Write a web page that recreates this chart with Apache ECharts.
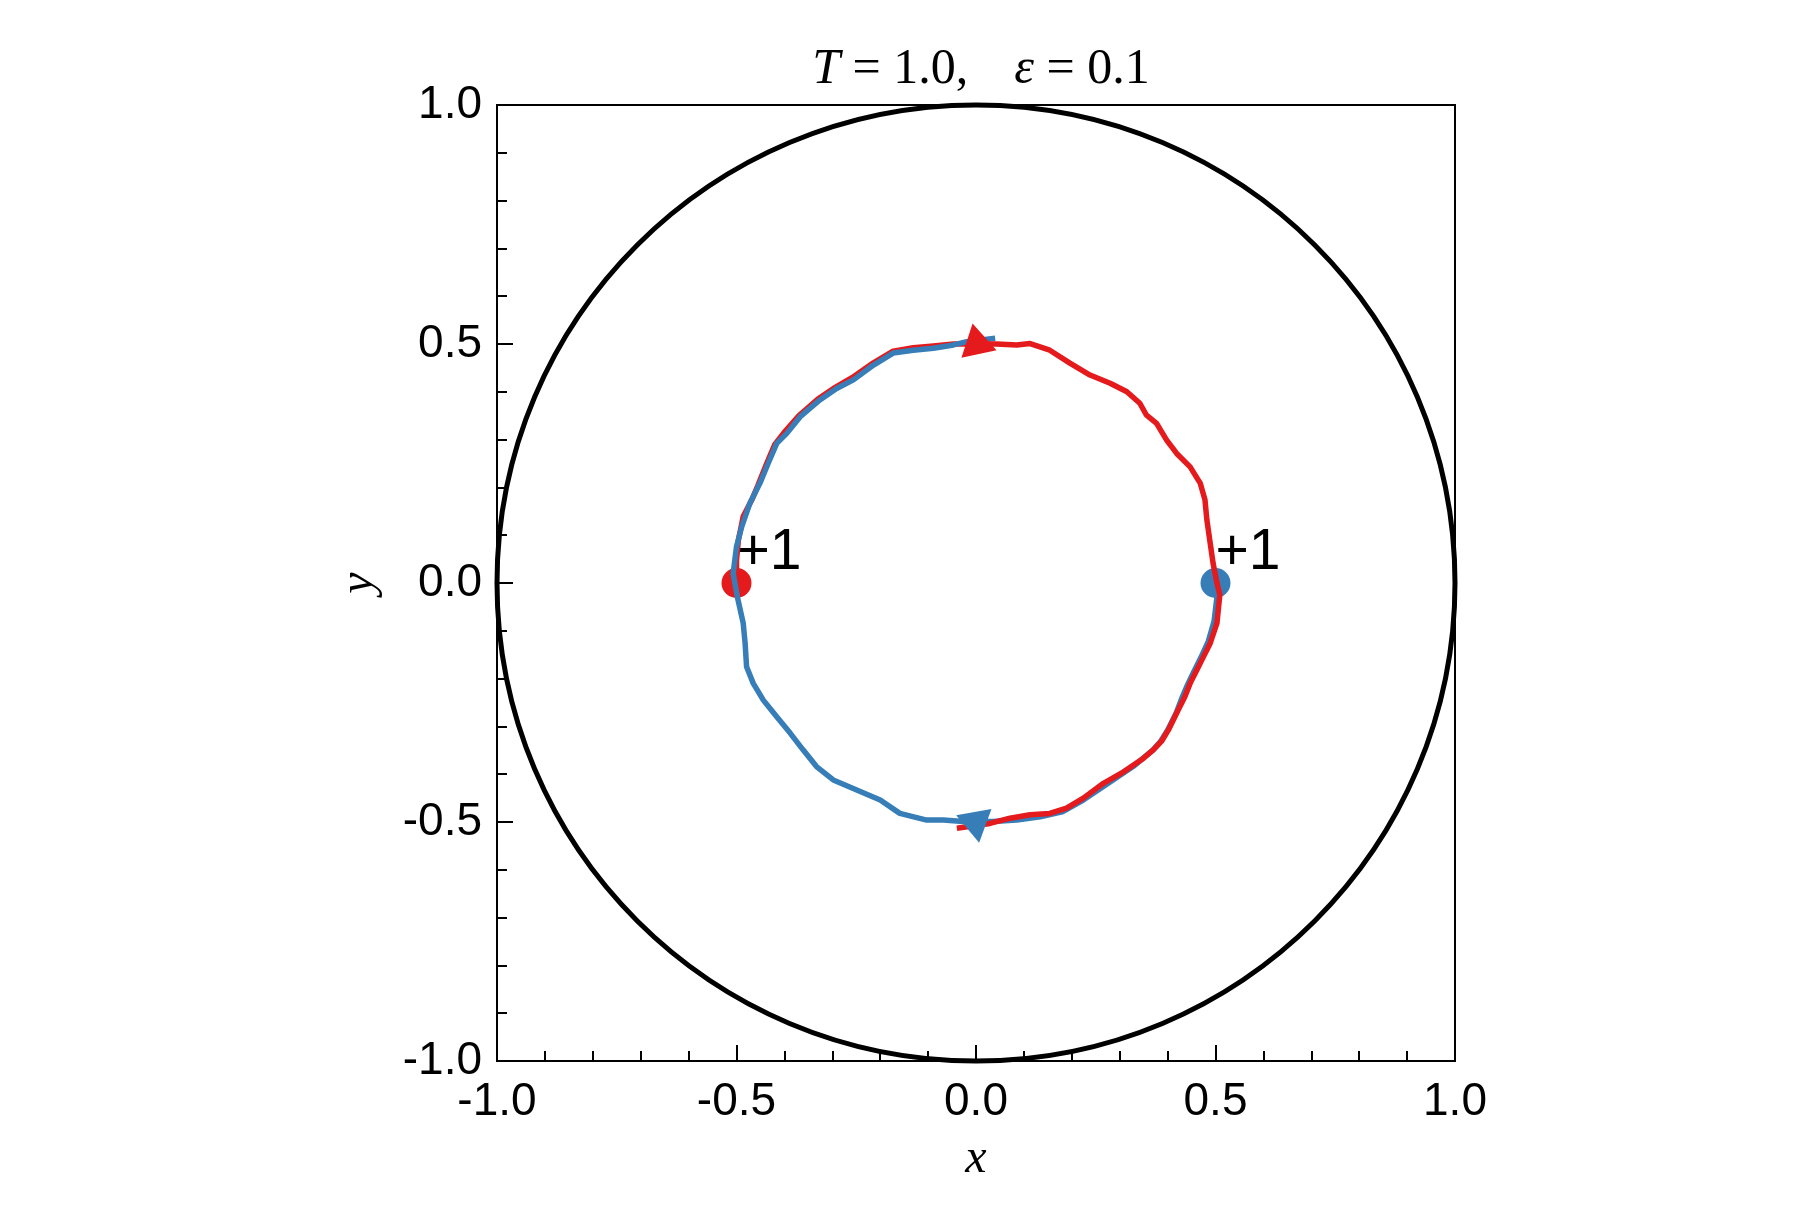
<!DOCTYPE html>
<html><head><meta charset="utf-8">
<script src="https://cdn.jsdelivr.net/npm/echarts@6/dist/echarts.min.js"></script>
<style>html,body{margin:0;padding:0;background:#fff}#c{width:1800px;height:1224px}</style>
</head><body><div id="c"></div>
<script>
// ---- data ----
const tickValues = [-1, -0.5, 0, 0.5, 1];
const tickLabels = ['-1.0', '-0.5', '0.0', '0.5', '1.0'];
const domainCircle = [[0, 0, 1]]; // centre x, centre y, radius
// red vortex trajectory, first part (start -> top)
const redPath1 = [
  [-0.500, 0.000], [-0.500, 0.048], [-0.496, 0.090], [-0.486, 0.139], [-0.468, 0.174],
  [-0.455, 0.205], [-0.437, 0.250], [-0.420, 0.290], [-0.398, 0.318], [-0.370, 0.350],
  [-0.330, 0.385], [-0.293, 0.410], [-0.258, 0.430], [-0.215, 0.460], [-0.173, 0.485],
  [-0.131, 0.492], [-0.089, 0.496], [-0.047, 0.500], [0.000, 0.500]
];
// red vortex trajectory, second part (top -> bottom)
const redPath2 = [
  [0.000, 0.500], [0.043, 0.500], [0.085, 0.498], [0.113, 0.501], [0.154, 0.487],
  [0.196, 0.460], [0.238, 0.435], [0.280, 0.418], [0.315, 0.400], [0.342, 0.376],
  [0.356, 0.351], [0.377, 0.334], [0.398, 0.299], [0.419, 0.271], [0.447, 0.243],
  [0.468, 0.209], [0.478, 0.174], [0.482, 0.132], [0.489, 0.083], [0.495, 0.041],
  [0.503, 0.000], [0.509, -0.025], [0.503, -0.084], [0.489, -0.126], [0.475, -0.154],
  [0.461, -0.182], [0.447, -0.210], [0.436, -0.238], [0.420, -0.270], [0.403, -0.305],
  [0.388, -0.330], [0.370, -0.349], [0.349, -0.367], [0.308, -0.395], [0.266, -0.419],
  [0.224, -0.450], [0.189, -0.471], [0.154, -0.482], [0.113, -0.485], [0.071, -0.492],
  [0.029, -0.503], [-0.040, -0.513]
];
// blue vortex trajectory
const bluePath = [
  [0.500, 0.000], [0.503, -0.030], [0.497, -0.080], [0.485, -0.122], [0.470, -0.155],
  [0.455, -0.185], [0.442, -0.212], [0.430, -0.240], [0.418, -0.272], [0.400, -0.308],
  [0.385, -0.332], [0.370, -0.349], [0.328, -0.384], [0.280, -0.416], [0.224, -0.454],
  [0.182, -0.478], [0.134, -0.489], [0.085, -0.496], [0.036, -0.499], [-0.027, -0.499],
  [-0.068, -0.496], [-0.103, -0.496], [-0.159, -0.482], [-0.200, -0.454], [-0.249, -0.433],
  [-0.298, -0.412], [-0.333, -0.384], [-0.361, -0.349], [-0.388, -0.314], [-0.416, -0.280],
  [-0.444, -0.245], [-0.465, -0.210], [-0.479, -0.175], [-0.482, -0.126], [-0.486, -0.084],
  [-0.498, -0.030], [-0.507, 0.020], [-0.500, 0.076], [-0.489, 0.118], [-0.472, 0.167],
  [-0.451, 0.209], [-0.434, 0.250], [-0.416, 0.292], [-0.395, 0.313], [-0.367, 0.348],
  [-0.326, 0.383], [-0.291, 0.407], [-0.256, 0.425], [-0.214, 0.456], [-0.173, 0.481],
  [-0.131, 0.487], [-0.089, 0.491], [-0.047, 0.498], [-0.019, 0.505], [0.040, 0.512]
];
const redStart = [[-0.5, 0.0]];
const blueStart = [[0.5, 0.0]];
const redArrow = [[0.012, 0.497]];
const blueArrow = [[-0.011, -0.497]];
const chargeLabel = '+1';
const titleParts = ['T', ' = 1.0,', 'ε', ' = 0.1'];

// ---- chart ----
const RED = '#e41a1c', BLUE = '#377eb8';
const chart = echarts.init(document.getElementById('c'), null, {renderer: 'canvas'});
const fmt = v => { const i = tickValues.findIndex(t => Math.abs(t - v) < 1e-9); return i >= 0 ? tickLabels[i] : ''; };
const axisCommon = {
  type: 'value', min: -1, max: 1, interval: 0.5,
  axisLine: {show: true, onZero: false, lineStyle: {color: '#000', width: 2}},
  axisTick: {show: true, inside: true, length: 16, lineStyle: {color: '#000', width: 2}},
  minorTick: {show: true, splitNumber: 5, length: 10, lineStyle: {color: '#000', width: 2}},
  splitLine: {show: false}, minorSplitLine: {show: false},
  nameTextStyle: {fontFamily: 'Liberation Serif', fontStyle: 'italic', fontSize: 48, color: '#000'},
  nameLocation: 'middle'
};
const option = {
  backgroundColor: '#fff',
  animation: false,
  title: {
    text: '{i|' + titleParts[0] + '}{n|' + titleParts[1] + '}{s|}{i|' + titleParts[2] + '}{n|' + titleParts[3] + '}',
    left: 976, top: 40, textAlign: 'center',
    textStyle: {
      fontWeight: 'normal',
      rich: {
        i: {fontFamily: 'Liberation Serif', fontStyle: 'italic', fontWeight: 'normal', fontSize: 50, color: '#000'},
        n: {fontFamily: 'Liberation Serif', fontWeight: 'normal', fontSize: 50, color: '#000'},
        s: {width: 46}
      }
    }
  },
  grid: {left: 497, top: 105, width: 958, height: 956, show: true, borderColor: '#000', borderWidth: 2, containLabel: false},
  xAxis: Object.assign({}, axisCommon, {
    name: 'x', nameGap: 74,
    axisLabel: {formatter: fmt, fontFamily: 'Liberation Sans', fontSize: 46, color: '#000', margin: 18}
  }),
  yAxis: Object.assign({}, axisCommon, {
    name: 'y', nameGap: 114, nameRotate: 90,
    axisLabel: {formatter: fmt, fontFamily: 'Liberation Sans', fontSize: 46, color: '#000', margin: 15}
  }),
  series: [
    {
      type: 'custom', data: domainCircle, z: 2, silent: true,
      renderItem: (params, api) => {
        const c = api.coord([api.value(0), api.value(1)]);
        const s = api.size([api.value(2), api.value(2)]);
        return {type: 'ellipse', shape: {cx: c[0], cy: c[1], rx: s[0], ry: s[1]},
          style: {fill: null, stroke: '#000', lineWidth: 5}};
      }
    },
    {type: 'scatter', data: redStart, symbol: 'circle', symbolSize: 30, z: 3,
      itemStyle: {color: RED, opacity: 1},
      label: {show: true, formatter: chargeLabel, position: [15, -43], align: 'left', verticalAlign: 'top',
        fontFamily: 'Liberation Sans', fontSize: 57, color: '#000'}},
    {type: 'scatter', data: blueStart, symbol: 'circle', symbolSize: 30, z: 3,
      itemStyle: {color: BLUE, opacity: 1},
      label: {show: true, formatter: chargeLabel, position: [15, -43], align: 'left', verticalAlign: 'top',
        fontFamily: 'Liberation Sans', fontSize: 57, color: '#000'}},
    {type: 'line', data: redPath1, showSymbol: false, z: 4, smooth: false,
      lineStyle: {color: RED, width: 5.5}},
    {type: 'line', data: bluePath, showSymbol: false, z: 5, smooth: false,
      lineStyle: {color: BLUE, width: 5.5}},
    {type: 'line', data: redPath2, showSymbol: false, z: 6, smooth: false,
      lineStyle: {color: RED, width: 5.5}},
    {type: 'scatter', data: redArrow, symbol: 'triangle', symbolSize: [36, 31], symbolRotate: -108, z: 7,
      itemStyle: {color: RED, opacity: 1}},
    {type: 'scatter', data: blueArrow, symbol: 'triangle', symbolSize: [36, 31], symbolRotate: 70, z: 7,
      itemStyle: {color: BLUE, opacity: 1}}
  ]
};
chart.setOption(option);
</script>
</body></html>
